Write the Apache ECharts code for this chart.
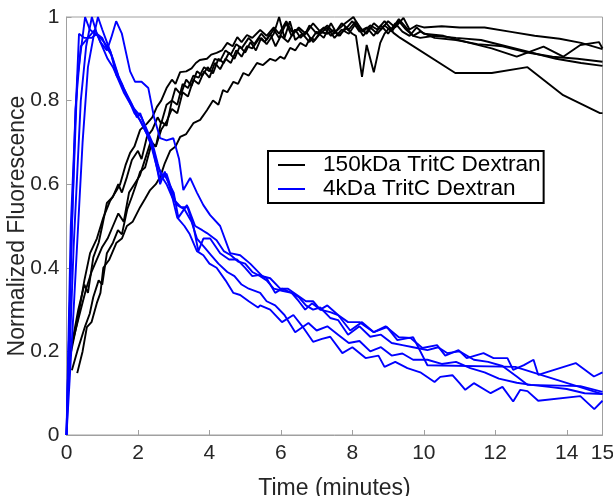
<!DOCTYPE html>
<html>
<head>
<meta charset="utf-8">
<script src="https://cdn.jsdelivr.net/npm/echarts@6/dist/echarts.min.js"></script>
<style>html,body{margin:0;padding:0;background:#fff}#c{width:613px;height:496px}</style>
</head>
<body>
<div id="c"></div>
<script>
const xTitle = 'Time (minutes)';
const yTitle = 'Normalized Fluorescence';
const nameBlack = '150kDa TritC Dextran';
const nameBlue = '4kDa TritC Dextran';

// 150kDa (black) traces: [time, value]
const k1 = [[0.1,0.187],[0.3,0.27],[0.5,0.37],[0.66,0.435],[0.85,0.47],[1.03,0.52],[1.22,0.56],[1.4,0.585],[1.5,0.6],[1.65,0.645],[1.78,0.675],[1.9,0.69],[2.06,0.73],[2.25,0.745],[2.4,0.76],[2.53,0.785],[2.65,0.8],[2.8,0.83],[2.95,0.85],[3.05,0.84],[3.18,0.868],[3.35,0.87],[3.5,0.877],[3.62,0.89],[3.73,0.897],[3.93,0.9],[4.05,0.91],[4.2,0.914],[4.35,0.92],[4.5,0.938],[4.65,0.93],[4.78,0.952],[4.9,0.94],[5.05,0.957],[5.2,0.95],[5.42,0.969],[5.6,0.955],[5.8,0.975],[5.95,0.96],[6.15,0.99],[6.3,0.965],[6.5,0.97],[6.65,0.955],[6.8,0.98],[7.0,0.96],[7.2,0.975],[7.4,0.955],[7.6,0.97],[7.8,0.985],[8.03,1.0],[8.2,0.975],[8.4,0.96],[8.6,0.985],[8.8,0.97],[9.0,0.99],[9.2,0.975],[9.43,0.998],[9.6,0.97],[9.8,0.98],[10.0,0.975],[10.5,0.978],[11.0,0.975],[11.7,0.975],[12.4,0.965],[13.1,0.955],[13.8,0.948],[14.4,0.938],[15,0.923]];
const k2 = [[0.05,0.18],[0.2,0.24],[0.33,0.3],[0.5,0.36],[0.6,0.34],[0.75,0.425],[0.9,0.46],[1.0,0.5],[1.13,0.555],[1.3,0.57],[1.45,0.6],[1.55,0.58],[1.69,0.617],[1.83,0.658],[2.0,0.68],[2.1,0.66],[2.25,0.713],[2.4,0.73],[2.55,0.76],[2.65,0.745],[2.8,0.79],[2.95,0.8],[3.05,0.83],[3.2,0.815],[3.35,0.85],[3.5,0.835],[3.65,0.87],[3.8,0.86],[3.95,0.88],[4.1,0.865],[4.25,0.9],[4.4,0.89],[4.55,0.915],[4.7,0.9],[4.85,0.93],[5.0,0.915],[5.15,0.94],[5.3,0.92],[5.45,0.95],[5.6,0.935],[5.8,0.96],[5.95,1.0],[6.1,0.95],[6.25,0.99],[6.4,0.945],[6.6,0.96],[6.8,0.94],[7.0,0.965],[7.2,0.95],[7.4,0.985],[7.6,0.955],[7.8,0.97],[8.0,0.99],[8.2,0.965],[8.4,0.975],[8.6,0.955],[8.8,0.98],[9.0,0.96],[9.2,0.985],[9.4,0.965],[9.6,0.955],[9.8,0.975],[10.0,0.96],[10.55,0.955],[11.2,0.94],[11.9,0.925],[12.6,0.905],[13.35,0.929],[13.9,0.905],[14.38,0.933],[14.9,0.94],[15,0.925]];
const k3 = [[0.15,0.155],[0.3,0.2],[0.52,0.26],[0.65,0.29],[0.75,0.33],[0.9,0.37],[1.0,0.36],[1.13,0.435],[1.3,0.46],[1.44,0.49],[1.55,0.48],[1.7,0.54],[1.83,0.57],[1.95,0.6],[2.06,0.63],[2.2,0.64],[2.39,0.7],[2.5,0.69],[2.65,0.73],[2.8,0.75],[2.95,0.78],[3.1,0.77],[3.25,0.82],[3.4,0.81],[3.55,0.85],[3.7,0.84],[3.85,0.87],[4.0,0.855],[4.15,0.89],[4.3,0.875],[4.45,0.9],[4.6,0.89],[4.75,0.92],[4.9,0.905],[5.05,0.93],[5.2,0.925],[5.4,0.95],[5.55,0.94],[5.7,0.96],[5.85,0.93],[6.0,0.955],[6.2,0.94],[6.4,0.97],[6.55,0.95],[6.7,0.965],[6.9,0.94],[7.1,0.96],[7.3,0.975],[7.5,0.95],[7.7,0.97],[7.9,0.96],[8.1,0.985],[8.3,0.955],[8.5,0.975],[8.7,0.96],[8.9,0.98],[9.1,0.965],[9.3,0.99],[9.5,0.97],[9.7,0.955],[9.9,0.965],[10.3,0.95],[10.9,0.945],[11.5,0.935],[12.2,0.93],[12.9,0.915],[13.6,0.905],[14.3,0.9],[15,0.893]];
const k4 = [[0.3,0.148],[0.45,0.2],[0.57,0.258],[0.7,0.27],[0.85,0.316],[0.95,0.34],[1.03,0.4],[1.2,0.42],[1.4,0.46],[1.55,0.47],[1.69,0.5],[1.85,0.51],[2.06,0.545],[2.2,0.565],[2.34,0.586],[2.5,0.6],[2.62,0.617],[2.75,0.65],[2.9,0.68],[3.05,0.69],[3.18,0.713],[3.35,0.72],[3.55,0.746],[3.74,0.754],[3.93,0.777],[4.1,0.8],[4.25,0.79],[4.38,0.825],[4.5,0.82],[4.67,0.845],[4.8,0.84],[4.95,0.866],[5.1,0.86],[5.33,0.89],[5.5,0.885],[5.7,0.9],[5.85,0.895],[5.98,0.905],[6.1,0.9],[6.26,0.926],[6.4,0.92],[6.54,0.938],[6.7,0.93],[6.82,0.95],[6.95,0.945],[7.1,0.964],[7.3,0.96],[7.47,0.969],[7.65,0.955],[7.8,0.975],[8.0,0.96],[8.1,0.955],[8.27,0.857],[8.4,0.933],[8.6,0.868],[8.78,0.938],[8.9,0.96],[9.05,0.975],[9.15,0.962],[9.34,0.95],[10.88,0.866],[11.9,0.866],[12.9,0.88],[13.9,0.813],[14.93,0.77],[15,0.77]];
const k5 = [[0.1,0.2],[0.25,0.25],[0.4,0.3],[0.55,0.35],[0.7,0.39],[0.85,0.42],[1.0,0.45],[1.15,0.47],[1.3,0.5],[1.45,0.53],[1.6,0.51],[1.75,0.58],[1.9,0.6],[2.05,0.62],[2.2,0.66],[2.35,0.7],[2.5,0.69],[2.65,0.75],[2.8,0.74],[2.95,0.8],[3.1,0.79],[3.25,0.84],[3.4,0.83],[3.55,0.86],[3.7,0.855],[3.85,0.88],[4.0,0.87],[4.15,0.9],[4.3,0.895],[4.45,0.92],[4.6,0.91],[4.75,0.935],[4.9,0.925],[5.1,0.95],[5.25,0.935],[5.45,0.96],[5.6,0.945],[5.8,0.97],[5.95,0.95],[6.15,0.985],[6.3,0.955],[6.5,0.975],[6.7,0.96],[6.9,0.985],[7.1,0.965],[7.3,0.98],[7.5,0.96],[7.7,0.985],[7.9,0.97],[8.1,0.99],[8.3,0.965],[8.5,0.98],[8.7,0.97],[8.9,0.99],[9.1,0.97],[9.3,0.995],[9.5,0.975],[9.7,0.955],[9.9,0.95],[10.3,0.955],[10.9,0.95],[11.6,0.945],[12.3,0.93],[13.0,0.915],[13.7,0.9],[14.4,0.89],[15,0.883]];

// 4kDa (blue) traces: [time, value]
const b1 = [[0,0],[0.12,0.5],[0.35,0.96],[0.5,0.95],[0.7,0.95],[0.85,0.96],[1.0,0.93],[1.15,0.9],[1.3,0.88],[1.45,0.85],[1.6,0.82],[1.8,0.79],[1.95,0.775],[2.1,0.76],[2.25,0.73],[2.4,0.7],[2.55,0.65],[2.65,0.62],[2.8,0.6],[2.95,0.57],[3.1,0.55],[3.3,0.54],[3.5,0.51],[3.65,0.47],[3.85,0.45],[4.05,0.43],[4.25,0.41],[4.5,0.39],[4.7,0.38],[4.9,0.36],[5.1,0.35],[5.42,0.34],[5.6,0.32],[5.84,0.31],[6.1,0.287],[6.4,0.246],[6.77,0.268],[7.0,0.25],[7.3,0.26],[7.6,0.24],[7.9,0.22],[8.2,0.225],[8.5,0.2],[8.8,0.21],[9.1,0.19],[9.4,0.195],[9.7,0.18],[10.1,0.18],[10.5,0.17],[10.9,0.175],[11.3,0.16],[11.7,0.15],[12.1,0.135],[12.6,0.125],[13.0,0.12],[13.5,0.115],[14.0,0.11],[14.5,0.1],[15,0.098]];
const b2 = [[0,0],[0.15,0.5],[0.3,0.85],[0.52,1.0],[0.65,0.97],[0.8,0.96],[0.95,0.95],[1.05,0.94],[1.22,0.92],[1.36,0.88],[1.5,0.845],[1.69,0.81],[1.83,0.79],[1.97,0.76],[2.06,0.77],[2.2,0.737],[2.35,0.7],[2.53,0.64],[2.62,0.61],[2.76,0.62],[3.0,0.58],[3.13,0.52],[3.37,0.55],[3.55,0.5],[3.69,0.44],[3.83,0.47],[4.02,0.47],[4.3,0.435],[4.55,0.42],[4.77,0.42],[5.0,0.4],[5.2,0.38],[5.42,0.383],[5.6,0.375],[5.84,0.34],[6.03,0.35],[6.3,0.34],[6.5,0.32],[6.68,0.3],[6.87,0.315],[7.1,0.3],[7.38,0.294],[7.6,0.287],[7.94,0.25],[8.27,0.27],[8.6,0.246],[8.97,0.258],[9.26,0.227],[9.7,0.234],[10.1,0.167],[12.56,0.163],[15,0.098]];
const b3 = [[0,0],[0.2,0.45],[0.4,0.8],[0.55,0.93],[0.71,1.0],[0.85,0.96],[1.0,0.95],[1.1,0.93],[1.25,0.91],[1.4,0.86],[1.55,0.84],[1.75,0.8],[1.9,0.77],[2.06,0.754],[2.25,0.72],[2.43,0.68],[2.57,0.64],[2.7,0.62],[2.8,0.625],[3.04,0.56],[3.2,0.545],[3.4,0.545],[3.6,0.5],[3.8,0.49],[3.93,0.483],[4.2,0.466],[4.4,0.44],[4.6,0.43],[4.8,0.415],[5.0,0.41],[5.2,0.39],[5.42,0.38],[5.6,0.37],[5.8,0.35],[6.03,0.345],[6.3,0.34],[6.5,0.33],[6.7,0.31],[6.9,0.3],[7.1,0.305],[7.38,0.28],[7.6,0.275],[7.88,0.24],[8.2,0.26],[8.5,0.235],[8.8,0.24],[9.1,0.22],[9.4,0.215],[9.7,0.21],[10.1,0.203],[10.4,0.21],[10.65,0.196],[11.0,0.2],[11.4,0.18],[11.8,0.175],[12.2,0.165],[12.6,0.14],[12.9,0.12],[14.38,0.117],[15,0.103]];
const b4 = [[0,0],[0.2,0.3],[0.45,0.7],[0.6,0.88],[0.75,0.95],[0.88,1.0],[1.0,0.97],[1.13,0.94],[1.3,0.9],[1.45,0.86],[1.6,0.83],[1.78,0.8],[1.95,0.77],[2.1,0.745],[2.25,0.72],[2.4,0.69],[2.53,0.64],[2.62,0.6],[2.75,0.63],[2.9,0.59],[3.1,0.52],[3.3,0.5],[3.45,0.48],[3.65,0.44],[3.83,0.43],[4.0,0.41],[4.2,0.4],[4.45,0.37],[4.67,0.34],[4.86,0.335],[5.1,0.32],[5.36,0.305],[5.42,0.31],[5.7,0.3],[6.03,0.27],[6.35,0.287],[6.6,0.26],[6.9,0.223],[7.15,0.23],[7.38,0.235],[7.72,0.196],[8.0,0.21],[8.37,0.184],[8.73,0.19],[8.9,0.163],[9.2,0.175],[9.54,0.16],[9.9,0.15],[10.3,0.127],[10.46,0.139],[10.8,0.143],[11.0,0.124],[11.16,0.108],[11.4,0.124],[11.87,0.1],[12.2,0.115],[12.5,0.08],[12.7,0.108],[12.9,0.105],[13.2,0.082],[14.38,0.093],[14.77,0.062],[15,0.082]];
const b5 = [[0,0],[0.12,0.4],[0.25,0.78],[0.4,0.93],[0.6,0.95],[0.8,0.97],[0.95,0.94],[1.13,0.92],[1.25,0.95],[1.39,0.99],[1.55,0.96],[1.78,0.87],[1.92,0.845],[2.1,0.845],[2.29,0.83],[2.45,0.76],[2.62,0.71],[2.8,0.705],[2.99,0.71],[3.15,0.66],[3.27,0.586],[3.46,0.615],[3.65,0.58],[3.83,0.55],[4.02,0.526],[4.3,0.5],[4.58,0.435],[4.86,0.43],[5.14,0.41],[5.48,0.38],[5.7,0.375],[5.98,0.35],[6.2,0.35],[6.45,0.335],[6.7,0.32],[6.9,0.32],[7.1,0.3],[7.3,0.31],[7.6,0.287],[7.88,0.27],[8.2,0.27],[8.6,0.246],[8.93,0.26],[9.3,0.234],[9.63,0.232],[9.96,0.208],[10.37,0.215],[10.6,0.19],[10.97,0.203],[11.2,0.184],[11.67,0.196],[11.95,0.184],[12.34,0.184],[12.5,0.156],[12.8,0.167],[13.07,0.18],[13.2,0.144],[14.25,0.172],[14.76,0.14],[15,0.15]];

const blackSets = [k1, k2, k3, k4, k5];
const blueSets = [b1, b2, b3, b4, b5];

const font = "'Liberation Sans', Arial, sans-serif";
const textColor = '#262626';
const axisGray = '#a0a0a0';

function mk(name, color, data) {
  return {
    type: 'line', name: name, data: data, showSymbol: false, symbol: 'none',
    lineStyle: { color: color, width: 1.9 }, itemStyle: { color: color },
    silent: true, animation: false
  };
}
const series = [];
blackSets.forEach(d => series.push(mk(nameBlack, '#000000', d)));
blueSets.forEach(d => series.push(mk(nameBlue, '#0000ff', d)));

const chart = echarts.init(document.getElementById('c'), null, { renderer: 'canvas' });
chart.setOption({
  backgroundColor: '#ffffff',
  animation: false,
  grid: { left: 66.5, right: 10.5, top: 17, bottom: 61, containLabel: false, outerBoundsMode: 'none', show: true, borderColor: axisGray, borderWidth: 1, backgroundColor: 'transparent' },
  legend: {
    data: [nameBlack, nameBlue], orient: 'vertical', left: 268, top: 151,
    icon: 'rect', itemWidth: 27, itemHeight: 2, itemGap: 0,
    padding: [2, 3, 2, 10], borderColor: '#000', borderWidth: 2, backgroundColor: '#fff',
    textStyle: { fontFamily: font, fontSize: 22.6, color: '#000', lineHeight: 24, padding: [0, 0, 0, 13] },
    selectedMode: false
  },
  xAxis: {
    type: 'value', min: 0, max: 15, interval: 2,
    name: xTitle, nameLocation: 'middle', nameGap: 42, nameMoveOverlap: false,
    nameTextStyle: { fontFamily: font, fontSize: 23, color: textColor },
    axisLine: { show: true, lineStyle: { color: axisGray, width: 1 } },
    axisTick: { show: true, inside: true, length: 5, lineStyle: { color: axisGray } },
    axisLabel: { fontFamily: font, fontSize: 21, color: textColor, margin: 8 },
    splitLine: { show: false }
  },
  yAxis: {
    type: 'value', min: 0, max: 1, interval: 0.2,
    name: yTitle, nameLocation: 'middle', nameGap: 37, nameRotate: 90, nameMoveOverlap: false,
    nameTextStyle: { fontFamily: font, fontSize: 23, color: textColor },
    axisLine: { show: true, lineStyle: { color: axisGray, width: 1 } },
    axisTick: { show: true, inside: true, length: 5, lineStyle: { color: axisGray } },
    axisLabel: { fontFamily: font, fontSize: 21, color: textColor, margin: 7 },
    splitLine: { show: false }
  },
  series: series
});
</script>
</body>
</html>
